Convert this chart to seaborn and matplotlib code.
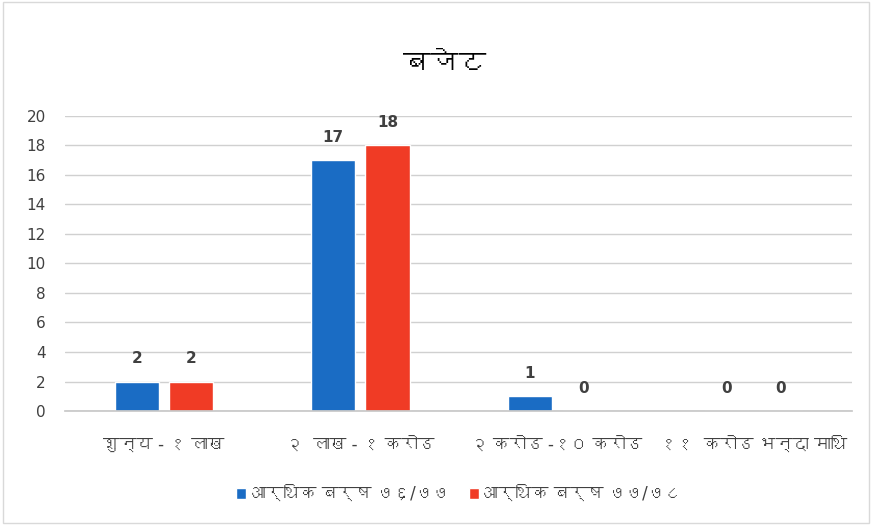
import pandas as pd
import matplotlib
matplotlib.use("Agg")
import matplotlib.pyplot as plt
import seaborn as sns
from matplotlib import font_manager
from fontTools.ttLib import TTFont

# data
categories = ["शुन्य - १ लाख", "२  लाख - १ करोड", "२ करोड -१० करोड", "११  करोड भन्दा माथि"]
years = ["आर्थिक बर्ष ७६/७७", "आर्थिक बर्ष ७७/७८"]
counts_7677 = [2, 17, 1, 0]
counts_7778 = [2, 18, 0, 0]
colors = ["#1a6cc4", "#f03b25"]

df = pd.DataFrame({
    "category": categories * 2,
    "year": [years[0]] * 4 + [years[1]] * 4,
    "count": counts_7677 + counts_7778,
})

sns.set_theme(style="white")

# look for an installed font with Devanagari glyphs, DejaVu first for digits
deva = []
for f in font_manager.fontManager.ttflist:
    try:
        cmap = TTFont(f.fname, fontNumber=0, lazy=True).getBestCmap()
        if cmap and 0x092C in cmap and f.name not in deva:
            deva.append(f.name)
    except Exception:
        pass
plt.rcParams["font.family"] = ["DejaVu Sans"] + deva[:1]

fig, ax = plt.subplots(figsize=(8.72, 5.25), dpi=100)
fig.subplots_adjust(left=0.075, right=0.977, top=0.78, bottom=0.217)

sns.barplot(data=df, x="category", y="count", hue="year", palette=colors,
            width=0.55, gap=0.18, ax=ax, saturation=1)

for c in ax.containers:
    ax.bar_label(c, padding=11, fontsize=11, fontweight="bold", color="#404040")

ax.set_ylim(0, 20)
ax.set_yticks(range(0, 21, 2))
ax.yaxis.grid(True, color="#d0d0d0", linewidth=1)
ax.set_axisbelow(True)
for s in ["top", "right", "left"]:
    ax.spines[s].set_visible(False)
ax.spines["bottom"].set_color("#c8c8c8")
ax.tick_params(axis="y", labelsize=11, colors="#404040", length=0, pad=14)
ax.tick_params(axis="x", labelsize=12, colors="#404040", length=0, pad=18)
ax.set_xlabel("")
ax.set_ylabel("")

fig.suptitle("बजेट", x=0.51, y=0.905, fontsize=20, fontweight="bold", color="black")

ax.legend(loc="upper center", bbox_to_anchor=(0.5, -0.2), ncol=2, frameon=False,
          fontsize=12, handlelength=0.6, handleheight=0.6, handletextpad=0.2,
          columnspacing=1.2, labelcolor="#404040")

fig.patches.append(plt.Rectangle((0.003, 0.003), 0.994, 0.994, transform=fig.transFigure,
                                 fill=False, edgecolor="#d9d9d9", linewidth=1))

fig.savefig("out.png", dpi=100)
